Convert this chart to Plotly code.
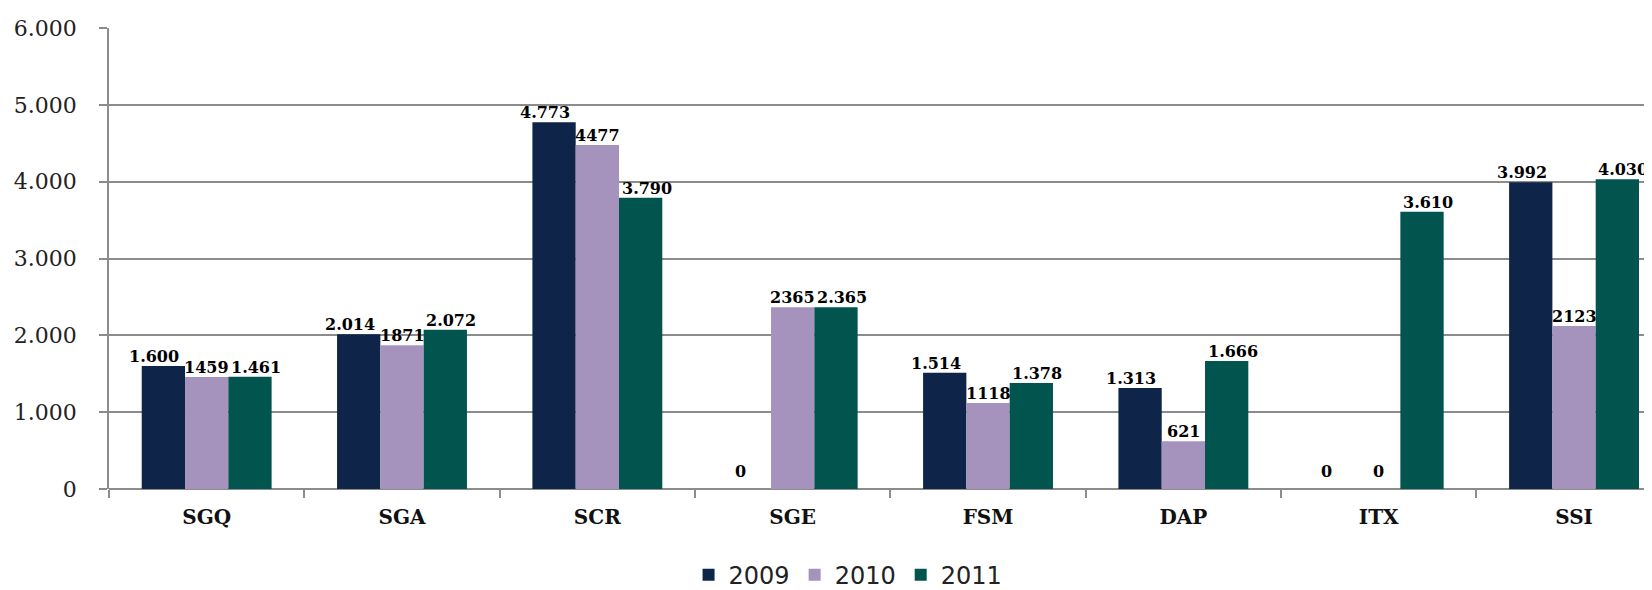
import plotly.graph_objects as go

categories = ["SGQ", "SGA", "SCR", "SGE", "FSM", "DAP", "ITX", "SSI"]
years = ["2009", "2010", "2011"]
v2009 = [1600, 2014, 4773, 0, 1514, 1313, 0, 3992]
v2010 = [1459, 1871, 4477, 2365, 1118, 621, 0, 2123]
v2011 = [1461, 2072, 3790, 2365, 1378, 1666, 3610, 4030]
t2009 = ["1.600", "2.014", "4.773", "0", "1.514", "1.313", "0", "3.992"]
t2010 = ["1459", "1871", "4477", "2365", "1118", "621", "0", "2123"]
t2011 = ["1.461", "2.072", "3.790", "2.365", "1.378", "1.666", "3.610", "4.030"]
colors = ["#0E2549", "#A593BE", "#02544F"]
yticks = [0, 1000, 2000, 3000, 4000, 5000, 6000]
yticklabels = ["0", "1.000", "2.000", "3.000", "4.000", "5.000", "6.000"]

# styling
W, H = 1652, 590
ML, MR, MT, MB = 101, 0, 20, 99
XR = [-0.5, 7.44]
BARGAP = 0.335
LABEL_SPREAD = [-9, 0, 6]

fig = go.Figure()
for name, vals, col in zip(years, [v2009, v2010, v2011], colors):
    fig.add_trace(go.Bar(
        x=categories, y=vals, name=name, marker_color=col,
        marker_line_width=0,
    ))

# value labels placed above each bar (offset to the bar's slot in the group)
unit_px = (W - ML - MR) / (XR[1] - XR[0])
bar_px = unit_px * (1 - BARGAP) / len(years)
for i, (vals, txt) in enumerate(zip([v2009, v2010, v2011], [t2009, t2010, t2011])):
    slot = (i - (len(years) - 1) / 2) * bar_px
    for c, v, t in zip(categories, vals, txt):
        fig.add_annotation(
            x=c, y=v, text=t, showarrow=False, xanchor="center", yanchor="bottom",
            xshift=slot + LABEL_SPREAD[i], yshift=(6 if v == 0 else -2),
            font=dict(family="DejaVu Serif", size=16, color="#000000", weight="bold"),
        )

fig.update_layout(
    width=W, height=H,
    margin=dict(l=ML, r=MR, t=MT, b=MB),
    paper_bgcolor="white", plot_bgcolor="white",
    barmode="group", bargap=BARGAP, bargroupgap=0,
    showlegend=True,
    legend=dict(orientation="h", x=0.4765, xanchor="center", y=-0.187, yanchor="middle",
                font=dict(family="DejaVu Sans", size=24, color="#222222"),
                itemclick=False),
    xaxis=dict(
        range=XR, showline=False,
        tickfont=dict(family="DejaVu Serif", size=20, color="#111111", weight="bold"),
        showgrid=False, zeroline=False, ticklabelstandoff=14,
        ticks="outside", ticklen=8, tickcolor="#8C8C8C", tickwidth=1.5,
        tickson="boundaries",
    ),
    yaxis=dict(
        range=[0, 6000], tickvals=yticks, ticktext=yticklabels,
        tickfont=dict(family="DejaVu Serif", size=22, color="#222222"),
        showgrid=True, gridcolor="#8C8C8C", gridwidth=1.5,
        showline=True, linecolor="#8C8C8C", linewidth=1.5,
        ticks="outside", ticklen=8, tickcolor="#8C8C8C", tickwidth=1.5,
        zeroline=True, zerolinecolor="#8C8C8C", zerolinewidth=1.5,
        ticklabelstandoff=18,
    ),
)

fig.write_html("out.html")
